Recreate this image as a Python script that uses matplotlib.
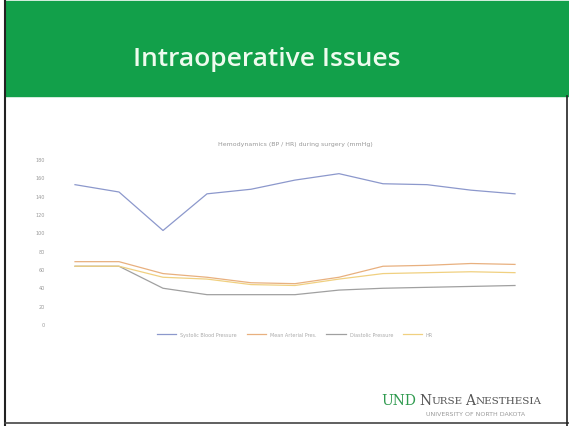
import matplotlib.pyplot as plt

# readings per time point
points = list(range(1, 12))
systolic = [152, 144, 102, 142, 147, 157, 164, 153, 152, 146, 142]
mean_ap = [68, 68, 55, 51, 45, 44, 51, 63, 64, 66, 65]
diastolic = [63, 63, 39, 32, 32, 32, 37, 39, 40, 41, 42]
heart_rate = [63, 63, 51, 49, 43, 42, 49, 55, 56, 57, 56]
series_names = ['Systolic Blood Pressure', 'Mean Arterial Pres.', 'Diastolic Pressure', 'HR']
y_ticks = [0, 20, 40, 60, 80, 100, 120, 140, 160, 180]

W, H = 569, 427
fig = plt.figure(figsize=(W / 100, H / 100), dpi=100)
fig.patch.set_facecolor('white')

# slide frame and green header
frame = fig.add_axes([0, 0, 1, 1])
frame.set_xlim(0, W)
frame.set_ylim(H, 0)
frame.axis('off')
frame.add_patch(plt.Rectangle((5, 2), W - 5, 95, color='#12a04a', zorder=1))
frame.plot([5, 5], [0, H], color='#222222', lw=1.5)
frame.plot([5, W], [424, 424], color='#444444', lw=1.2)
frame.plot([567, 567], [97, H], color='#222222', lw=1.2)
frame.text(267, 60, 'Intraoperative Issues', color='#eefbee', fontsize=19,
           family='Open Sans', weight='semibold', ha='center', va='center', zorder=2)

# logo
frame.text(416, 401, 'UND', color='#2e9a4e', fontsize=10, family='DejaVu Serif',
           ha='right', va='center')
frame.text(419, 401, 'N', color='#555555', fontsize=10, family='DejaVu Serif',
           ha='left', va='center')
frame.text(431, 402, 'URSE', color='#555555', fontsize=7.5, family='DejaVu Serif',
           ha='left', va='center')
frame.text(465, 401, 'A', color='#555555', fontsize=10, family='DejaVu Serif',
           ha='left', va='center')
frame.text(476, 402, 'NESTHESIA', color='#555555', fontsize=7.5, family='DejaVu Serif',
           ha='left', va='center')
frame.text(476, 415, 'UNIVERSITY OF NORTH DAKOTA', color='#9a9a9a', fontsize=4.5,
           ha='center', va='center')

# the chart
ax = fig.add_axes([53 / W, 1 - 325 / H, (537 - 53) / W, (325 - 160) / H])
colors = ['#8c98cc', '#e8b07f', '#a0a0a0', '#f0d080']
for vals, name, c in zip([systolic, mean_ap, diastolic, heart_rate], series_names, colors):
    ax.plot(points, vals, color=c, lw=0.9, label=name)
ax.set_xlim(0.5, 11.5)
ax.set_ylim(0, 180)
ax.set_yticks(y_ticks)
ax.set_yticklabels([str(v) for v in y_ticks], fontsize=3.5, color='#999999')
ax.set_xticks([])
ax.tick_params(axis='y', length=0, pad=6)
for s in ax.spines.values():
    s.set_visible(False)
ax.set_title('Hemodynamics (BP / HR) during surgery (mmHg)', fontsize=4.5,
             color='#999999', pad=10)
ax.legend(loc='upper center', bbox_to_anchor=(0.5, -0.02), ncol=4, frameon=False,
          fontsize=3.5, labelcolor='#aaaaaa', handlelength=4, columnspacing=2)

fig.savefig('out.png', dpi=100)
